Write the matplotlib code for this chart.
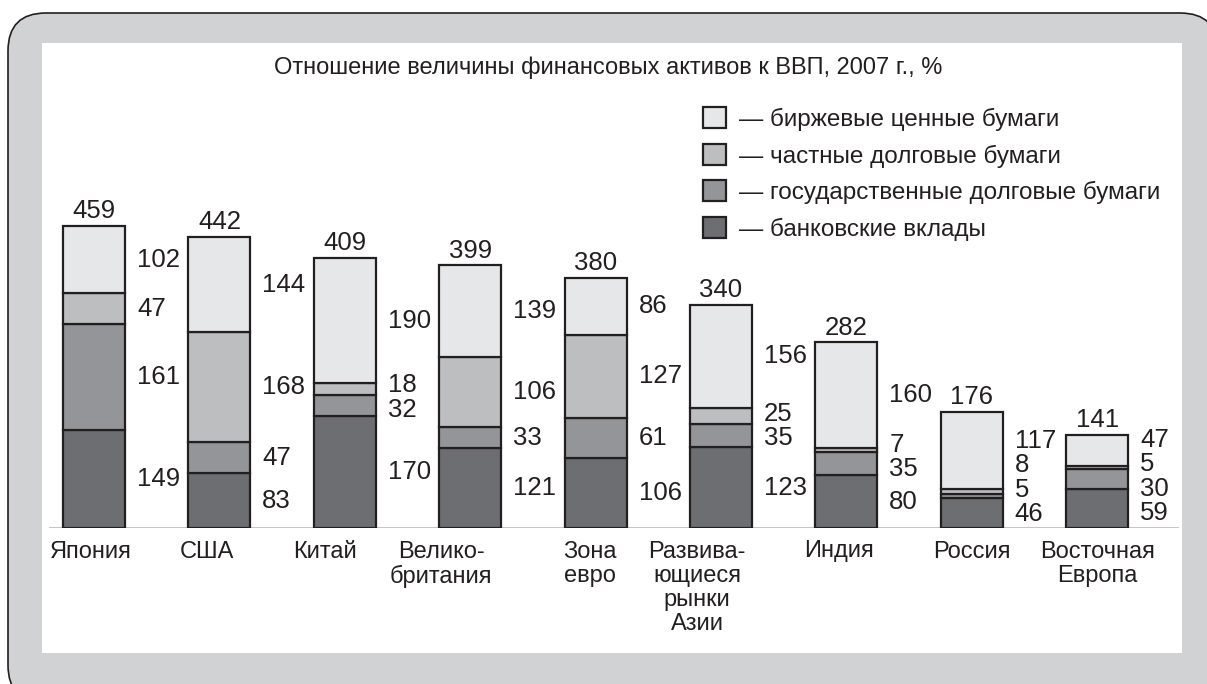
import numpy as np
import matplotlib.pyplot as plt
from matplotlib.patches import FancyBboxPatch, Rectangle

plt.rcParams['font.family'] = ['Liberation Sans', 'DejaVu Sans']

# Data
countries = ['Япония', 'США', 'Китай', 'Велико-\nбритания', 'Зона\nевро',
             'Развива-\nющиеся\nрынки\nАзии', 'Индия', 'Россия', 'Восточная\nЕвропа']
totals = [459, 442, 409, 399, 380, 340, 282, 176, 141]
bank = [149, 83, 170, 121, 106, 123, 80, 46, 59]
gov_debt = [161, 47, 32, 33, 61, 35, 35, 5, 30]
priv_debt = [47, 168, 18, 106, 127, 25, 7, 8, 5]
stocks = [102, 144, 190, 139, 86, 156, 160, 117, 47]

series_names = ['— банковские вклады', '— государственные долговые бумаги',
                '— частные долговые бумаги', '— биржевые ценные бумаги']
title = 'Отношение величины финансовых активов к ВВП, 2007 г., %'

# Style
colors = ['#6d6e71', '#939598', '#bcbec0', '#e6e7e8']
edge = '#231f20'
txt = '#231f20'
label_shift_px = [-3, -12, -20, -29, -6, -24, -7, 0, 0]

W, H = 1207, 684
fig = plt.figure(figsize=(W / 100, H / 100), dpi=100)

# background frame in pixel coordinates
bg = fig.add_axes([0, 0, 1, 1])
bg.set_xlim(0, W)
bg.set_ylim(H, 0)
bg.axis('off')
bg.add_patch(FancyBboxPatch((8, 13), 1210, 690, boxstyle='round,pad=0,rounding_size=38',
                            facecolor='#d1d2d4', edgecolor=edge, linewidth=1.2))
bg.add_patch(Rectangle((42, 43), 1140, 610, facecolor='white', edgecolor='none'))

# main axes
base_px, top_px = 528, 43
left_px, right_px = 42, 1182
px_per_unit = 0.658
spacing = 125.4
ax = fig.add_axes([left_px / W, (H - base_px) / H, (right_px - left_px) / W, (base_px - top_px) / H])
ax.patch.set_alpha(0)
ax.set_ylim(0, (base_px - top_px) / px_per_unit)
ax.set_xlim((left_px - 94) / spacing, (right_px - 94) / spacing)
ax.axis('off')

ax.axhline(0, xmin=8 / 1140, xmax=1135 / 1140, color='#bcbec0', linewidth=2, zorder=1)

x = np.arange(len(countries))
width = 0.494
layers = [bank, gov_debt, priv_debt, stocks]
bottom = np.zeros(len(x))
handles = []
for vals, c, name in zip(layers, colors, series_names):
    b = ax.bar(x, vals, width, bottom=bottom, color=c, edgecolor=edge, linewidth=1.6,
               label=name, zorder=2)
    handles.append(b)
    bottom = bottom + np.array(vals)


def spread(mids, gap=37.0, floor=21.0):
    groups = [[i] for i in range(len(mids))]

    def place(g):
        c = np.mean([mids[i] for i in g])
        n = len(g)
        return [c + (k - (n - 1) / 2) * gap for k in range(n)]

    merged = True
    while merged:
        merged = False
        for j in range(len(groups) - 1):
            lo, hi = place(groups[j]), place(groups[j + 1])
            if lo[-1] + gap > hi[0]:
                groups[j] = groups[j] + groups[j + 1]
                del groups[j + 1]
                merged = True
                break
    pos = []
    for g in groups:
        pos += place(g)
    out = []
    prev = None
    for p in pos:
        p = max(p, floor) if prev is None else max(p, prev + gap)
        out.append(p)
        prev = p
    return out


dx = 12 / spacing
for i in range(len(x)):
    vals = [layer[i] for layer in layers]
    cum = np.cumsum([0] + vals)
    mids = [(cum[k] + cum[k + 1]) / 2 for k in range(len(vals))]
    for v, yy in zip(vals, spread(mids)):
        ax.text(x[i] + width / 2 + dx, yy, str(v), ha='left', va='center',
                fontsize=18.5, color=txt)
    ax.annotate(str(totals[i]), (x[i], cum[-1]), xytext=(0, 2), textcoords='offset points',
                ha='center', va='bottom', fontsize=18.5, color=txt)
    ax.annotate(countries[i], (x[i], 0), xytext=(label_shift_px[i] * 0.72, -9),
                textcoords='offset points', ha='center', va='top', fontsize=17,
                color=txt, linespacing=1.12)

fig.text(608 / W, 1 - 68 / H, title, ha='center', va='center', fontsize=17, color=txt)

leg = fig.legend(handles[::-1], series_names[::-1], loc='upper left',
                 bbox_to_anchor=(703 / W, 1 - 107 / H), frameon=False, fontsize=17.5,
                 handlelength=0.95, handleheight=0.95, labelspacing=0.53,
                 handletextpad=0.55, borderpad=0, borderaxespad=0)
for t in leg.get_texts():
    t.set_color(txt)

fig.savefig('out.png', dpi=100)
